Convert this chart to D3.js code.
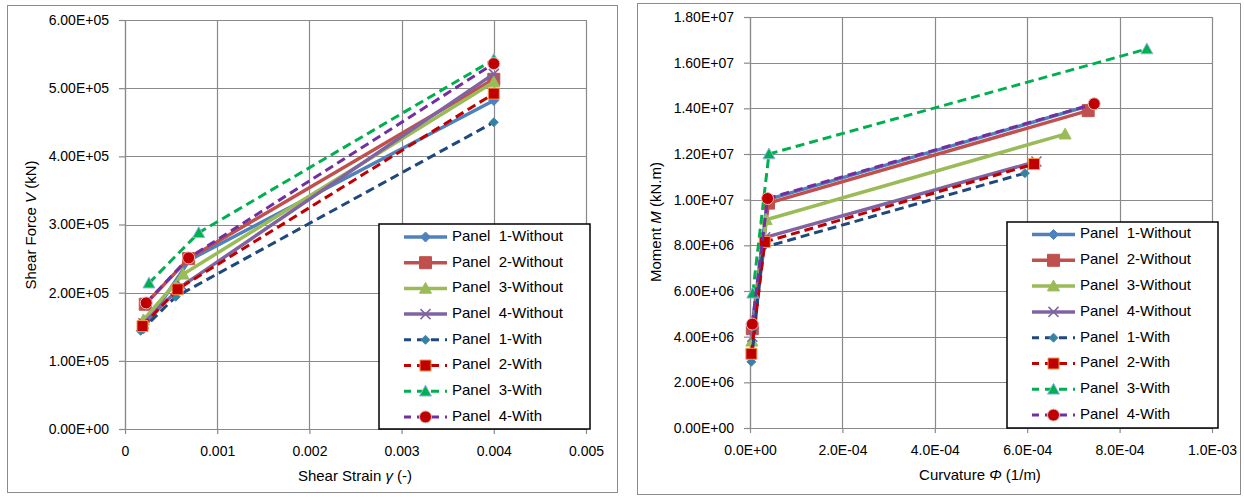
<!DOCTYPE html>
<html>
<head>
<meta charset="utf-8">
<script src="https://cdn.jsdelivr.net/npm/d3@7"></script>
<style>
  body { margin: 0; background: #fff; }
  svg text { font-family: "Liberation Sans", Arial, sans-serif; fill: #000; }
</style>
</head>
<body>
<div id="container"></div>
<script>
// nama series (sama untuk kedua chart)
const seriesNames = [
  "Panel  1-Without", "Panel  2-Without", "Panel  3-Without", "Panel  4-Without",
  "Panel  1-With", "Panel  2-With", "Panel  3-With", "Panel  4-With"
];

// chart kiri: shear strain (-) vs shear force (kN)
const strainP1Without = [[0.0002, 1.47e5], [0.0007, 2.48e5], [0.004, 4.82e5]];
const strainP2Without = [[0.00022, 1.83e5], [0.00069, 2.5e5], [0.004, 5.13e5]];
const strainP3Without = [[0.0002, 1.6e5], [0.00063, 2.27e5], [0.004, 5.09e5]];
const strainP4Without = [[0.0002, 1.55e5], [0.00062, 2.1e5], [0.004, 5.21e5]];
const strainP1With = [[0.00017, 1.44e5], [0.00055, 1.94e5], [0.004, 4.5e5]];
const strainP2With = [[0.00019, 1.51e5], [0.00057, 2.05e5], [0.004, 4.92e5]];
const strainP3With = [[0.00026, 2.14e5], [0.0008, 2.88e5], [0.004, 5.42e5]];
const strainP4With = [[0.00023, 1.85e5], [0.00069, 2.51e5], [0.004, 5.36e5]];

// chart kanan: curvature (1/m) vs moment (kN.m)
const curvP1Without = [[5e-6, 4.5e6], [3.8e-5, 1.0e7], [7.4e-4, 1.415e7]];
const curvP2Without = [[5e-6, 4.35e6], [4.0e-5, 9.85e6], [7.32e-4, 1.39e7]];
const curvP3Without = [[4e-6, 3.8e6], [3.5e-5, 9.12e6], [6.82e-4, 1.287e7]];
const curvP4Without = [[5e-6, 4.0e6], [3.3e-5, 8.35e6], [6.2e-4, 1.167e7]];
const curvP1With = [[3e-6, 2.9e6], [2.8e-5, 7.9e6], [5.95e-4, 1.116e7]];
const curvP2With = [[3e-6, 3.25e6], [3.2e-5, 8.15e6], [6.15e-4, 1.156e7]];
const curvP3With = [[6e-6, 5.9e6], [4.1e-5, 1.2e7], [8.59e-4, 1.66e7]];
const curvP4With = [[5e-6, 4.55e6], [3.8e-5, 1.005e7], [7.45e-4, 1.42e7]];

// tick
const strainTicks = [0, 0.001, 0.002, 0.003, 0.004, 0.005];
const strainTickLabels = ["0", "0.001", "0.002", "0.003", "0.004", "0.005"];
const forceTicks = [0, 1e5, 2e5, 3e5, 4e5, 5e5, 6e5];
const forceTickLabels = ["0.00E+00", "1.00E+05", "2.00E+05", "3.00E+05", "4.00E+05", "5.00E+05", "6.00E+05"];
const curvTicks = [0, 2e-4, 4e-4, 6e-4, 8e-4, 1e-3];
const curvTickLabels = ["0.0E+00", "2.0E-04", "4.0E-04", "6.0E-04", "8.0E-04", "1.0E-03"];
const momentTicks = [0, 2e6, 4e6, 6e6, 8e6, 1e7, 1.2e7, 1.4e7, 1.6e7, 1.8e7];
const momentTickLabels = ["0.00E+00", "2.00E+06", "4.00E+06", "6.00E+06", "8.00E+06",
  "1.00E+07", "1.20E+07", "1.40E+07", "1.60E+07", "1.80E+07"];

// gaya tiap series: warna garis, dash, marker
const styles = [
  { line: "#4F81BD", dash: null, marker: "diamond", fill: "#4F81BD", stroke: "#4F81BD", size: 10 },
  { line: "#C0504D", dash: null, marker: "square", fill: "#C0504D", stroke: "#C0504D", size: 12 },
  { line: "#9BBB59", dash: null, marker: "triangle", fill: "#9BBB59", stroke: "#9BBB59", size: 12 },
  { line: "#8064A2", dash: null, marker: "x", fill: "none", stroke: "#8064A2", size: 10 },
  { line: "#1F497D", dash: "9,5", marker: "diamond", fill: "#31859C", stroke: "#4F81BD", size: 9 },
  { line: "#C00000", dash: "9,5", marker: "square", fill: "#C00000", stroke: "#F79646", size: 11 },
  { line: "#00B050", dash: "9,5", marker: "triangle", fill: "#00B050", stroke: "#8DB4E2", size: 12 },
  { line: "#7030A0", dash: "9,5", marker: "circle", fill: "#C00000", stroke: "#E6B9B8", size: 12 }
];

const width = 1244;
const height = 497;

const svg = d3.select("#container")
  .append("svg")
  .attr("width", width)
  .attr("height", height);

svg.append("rect").attr("width", width).attr("height", height).attr("fill", "#fff");

// bentuk marker
function markerPath(type, s) {
  const h = s / 2;
  if (type === "diamond") return `M0,${-h}L${h},0L0,${h}L${-h},0Z`;
  if (type === "square") return `M${-h},${-h}H${h}V${h}H${-h}Z`;
  if (type === "triangle") return `M0,${-h}L${h},${h * 0.8}L${-h},${h * 0.8}Z`;
  if (type === "x") return `M${-h},${-h}L${h},${h}M${h},${-h}L${-h},${h}`;
  return d3.arc()({ innerRadius: 0, outerRadius: h, startAngle: 0, endAngle: 2 * Math.PI });
}

function drawChart(cfg) {
  const g = svg.append("g");
  const x = d3.scaleLinear().domain(cfg.xDomain).range(cfg.xRange);
  const y = d3.scaleLinear().domain(cfg.yDomain).range(cfg.yRange);

  // bingkai chart
  g.append("rect")
    .attr("x", cfg.frame[0] + 0.5).attr("y", cfg.frame[1] + 0.5)
    .attr("width", cfg.frame[2]).attr("height", cfg.frame[3])
    .attr("fill", "none").attr("stroke", "#8c8c8c").attr("stroke-width", 1);

  // grid
  const grid = g.append("g").attr("stroke", "#8a8a8a").attr("stroke-width", 1.2);
  grid.selectAll(".vg").data(cfg.xTicks).enter().append("line")
    .attr("x1", (d) => Math.round(x(d)) + 0.5).attr("x2", (d) => Math.round(x(d)) + 0.5)
    .attr("y1", cfg.yRange[0]).attr("y2", cfg.yRange[1]);
  grid.selectAll(".hg").data(cfg.yTicks).enter().append("line")
    .attr("y1", (d) => Math.round(y(d)) + 0.5).attr("y2", (d) => Math.round(y(d)) + 0.5)
    .attr("x1", cfg.xRange[0]).attr("x2", cfg.xRange[1]);

  // sumbu
  const xAxis = d3.axisBottom(x).tickValues(cfg.xTicks)
    .tickFormat((d, i) => cfg.xLabels[i]).tickSize(5).tickPadding(12);
  const yAxis = d3.axisLeft(y).tickValues(cfg.yTicks)
    .tickFormat((d, i) => cfg.yLabels[i]).tickSize(6).tickPadding(10);

  const gx = g.append("g").attr("transform", `translate(0, ${cfg.yRange[0]})`).call(xAxis);
  const gy = g.append("g").attr("transform", `translate(${cfg.xRange[0]}, 0)`).call(yAxis);
  [gx, gy].forEach((a) => {
    a.selectAll("path, line").attr("stroke", "#8a8a8a").attr("stroke-width", 1.2);
    a.select(".domain").attr("d", a === gx
      ? `M${cfg.xRange[0]},0.5H${cfg.xRange[1]}`
      : `M0.5,${cfg.yRange[0]}V${cfg.yRange[1]}`);
    a.selectAll("text").attr("font-size", 14).attr("fill", "#000")
      .attr("font-family", "Liberation Sans, Arial, sans-serif");
  });

  // judul sumbu
  const xt = g.append("text").attr("x", cfg.xTitlePos[0]).attr("y", cfg.xTitlePos[1])
    .attr("text-anchor", "middle").attr("font-size", 15).attr("dominant-baseline", "middle");
  cfg.xTitle.forEach((p) => xt.append("tspan").attr("font-style", p[1] ? "italic" : null).text(p[0]));
  const yt = g.append("text")
    .attr("transform", `translate(${cfg.yTitlePos[0]}, ${cfg.yTitlePos[1]}) rotate(-90)`)
    .attr("text-anchor", "middle").attr("font-size", 15).attr("dominant-baseline", "middle");
  cfg.yTitle.forEach((p) => yt.append("tspan").attr("font-style", p[1] ? "italic" : null).text(p[0]));

  // garis dan marker
  const line = d3.line().x((d) => x(d[0])).y((d) => y(d[1]));
  cfg.series.forEach((data, i) => {
    const st = styles[i];
    const sg = g.append("g");
    sg.append("path").datum(data)
      .attr("d", line)
      .attr("fill", "none")
      .attr("stroke", st.line)
      .attr("stroke-width", st.dash ? 3 : 3.5)
      .attr("stroke-dasharray", st.dash)
      .attr("stroke-linejoin", "round");
    sg.selectAll(".m").data(data).enter().append("path")
      .attr("transform", (d) => `translate(${x(d[0])}, ${y(d[1])})`)
      .attr("d", markerPath(st.marker, st.size))
      .attr("fill", st.fill)
      .attr("stroke", st.stroke)
      .attr("stroke-width", st.marker === "x" ? 1.5 : 1);
  });

  // legenda
  const lg = g.append("g");
  lg.append("rect")
    .attr("x", cfg.legend.x).attr("y", cfg.legend.y)
    .attr("width", cfg.legend.w).attr("height", cfg.legend.h)
    .attr("fill", "#fff").attr("stroke", "#000").attr("stroke-width", 1.5);
  seriesNames.forEach((name, i) => {
    const st = styles[i];
    const ry = cfg.legend.row0 + i * cfg.legend.step;
    const x0 = cfg.legend.x + 25;
    const x1 = x0 + 43;
    lg.append("line")
      .attr("x1", x0).attr("x2", x1).attr("y1", ry).attr("y2", ry)
      .attr("stroke", st.line).attr("stroke-width", st.dash ? 3 : 3.5)
      .attr("stroke-dasharray", st.dash ? "8,6" : null)
      .attr("stroke-dashoffset", st.dash ? 1 : null);
    lg.append("path")
      .attr("transform", `translate(${(x0 + x1) / 2}, ${ry})`)
      .attr("d", markerPath(st.marker, st.size))
      .attr("fill", st.fill).attr("stroke", st.stroke)
      .attr("stroke-width", st.marker === "x" ? 1.5 : 1);
    lg.append("text")
      .attr("x", x1 + 5).attr("y", ry)
      .attr("dominant-baseline", "middle")
      .attr("font-size", 15)
      .style("white-space", "pre")
      .text(name);
  });
}

drawChart({
  frame: [7, 5, 610, 487],
  xDomain: [0, 0.005], xRange: [125, 586],
  yDomain: [0, 6e5], yRange: [429, 20],
  xTicks: strainTicks, xLabels: strainTickLabels,
  yTicks: forceTicks, yLabels: forceTickLabels,
  xTitle: [["Shear Strain ", false], ["γ", true], [" (-)", false]], xTitlePos: [355, 477],
  yTitle: [["Shear Force ", false], ["V", true], [" (kN)", false]], yTitlePos: [32, 225],
  series: [strainP1Without, strainP2Without, strainP3Without, strainP4Without,
    strainP1With, strainP2With, strainP3With, strainP4With],
  legend: { x: 379, y: 224, w: 211, h: 205, row0: 237, step: 25.7 }
});

drawChart({
  frame: [637, 3, 603, 491],
  xDomain: [0, 1e-3], xRange: [750, 1212],
  yDomain: [0, 1.8e7], yRange: [428, 17],
  xTicks: curvTicks, xLabels: curvTickLabels,
  yTicks: momentTicks, yLabels: momentTickLabels,
  xTitle: [["Curvature ", false], ["Φ", true], [" (1/m)", false]], xTitlePos: [980, 476],
  yTitle: [["Moment ", false], ["M", true], [" (kN.m)", false]], yTitlePos: [657, 222],
  series: [curvP1Without, curvP2Without, curvP3Without, curvP4Without,
    curvP1With, curvP2With, curvP3With, curvP4With],
  legend: { x: 1007, y: 222, w: 211, h: 206, row0: 234.5, step: 25.8 }
});
</script>
</body>
</html>
